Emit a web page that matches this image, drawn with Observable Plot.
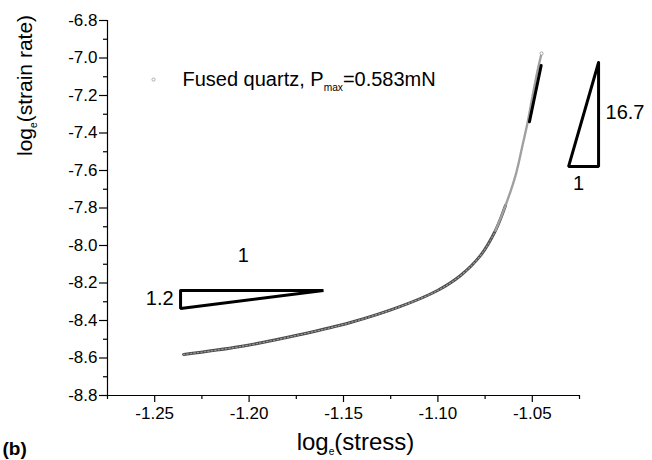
<!DOCTYPE html>
<html><head><meta charset="utf-8">
<script src="https://cdn.jsdelivr.net/npm/d3@7"></script>
<script src="https://cdn.jsdelivr.net/npm/@observablehq/plot@0.6"></script>
<style>body{margin:0;background:#fff}</style>
</head><body><div id="chart"></div>
<script>
// measured curve (log_e stress, log_e strain rate)
const logStress = [-1.2347,-1.2046,-1.1728,-1.1463,-1.1198,-1.1002,-1.0880,-1.0774,-1.0695,-1.0642,-1.0589,-1.0552,-1.0525,-1.0498,-1.0472,-1.0451];
const logStrainRate = [-8.581,-8.539,-8.475,-8.411,-8.325,-8.240,-8.160,-8.053,-7.920,-7.787,-7.627,-7.467,-7.344,-7.200,-7.067,-6.976];
const denseLimit = -1.0642;

// tick values
const xMajorTicks = [-1.25,-1.20,-1.15,-1.10,-1.05];
const xMinorTicks = [-1.275,-1.225,-1.175,-1.125,-1.075,-1.025];
const yMajorTicks = [-6.8,-7.0,-7.2,-7.4,-7.6,-7.8,-8.0,-8.2,-8.4,-8.6,-8.8];
const yMinorTicks = [-6.9,-7.1,-7.3,-7.5,-7.7,-7.9,-8.1,-8.3,-8.5,-8.7];

// slope annotations
const lowSlopeX = [-1.2363,-1.1606,-1.2363,-1.2363];
const lowSlopeY = [-8.240,-8.240,-8.336,-8.240];
const highSlopeX = [-1.0149,-1.0308,-1.0149,-1.0149];
const highSlopeY = [-7.024,-7.579,-7.579,-7.024];
const fitLineX = [-1.0453,-1.0515];
const fitLineY = [-7.040,-7.340];
const centerLabels = ["1","1"];
const centerLabelX = [-1.2030,-1.0255];
const centerLabelY = [-8.053,-7.669];
const endLabels = ["1.2"];
const endLabelX = [-1.2400];
const endLabelY = [-8.283];
const startLabels = ["16.7"];
const startLabelX = [-1.0112];
const startLabelY = [-7.291];

const legendText = "Fused quartz, P_{max}=0.583mN";
const legendX = -1.2506, legendY = -7.115, legendTextX = -1.2353;

const pts = logStress.map((x,i)=>({x, y: logStrainRate[i]}));
const dense = pts.filter(d=>d.x <= denseLimit + 1e-9);
const sparse = pts.filter(d=>d.x >= denseLimit - 0.006);
const toPts = (xs,ys)=>xs.map((x,i)=>({x,y:ys[i]}));
const lab = (ts,xs,ys)=>ts.map((t,i)=>({t,x:xs[i],y:ys[i]}));

const chart = Plot.plot({
  width: 652, height: 460,
  marginLeft: 107, marginRight: 73, marginTop: 20, marginBottom: 65,
  style: {fontFamily: "'Liberation Sans', Arial, sans-serif", fontSize: "17px", color: "black", background: "white", overflow: "visible"},
  x: {domain: [-1.275, -1.025]},
  y: {domain: [-8.8, -6.8]},
  marks: [
    Plot.axisX({ticks: xMinorTicks, tickSize: 4, tickFormat: () => "", label: null, strokeWidth: 1.2}),
    Plot.axisX({ticks: xMajorTicks, tickSize: 7, tickPadding: 4, tickFormat: d => d.toFixed(2), label: null, fontSize: 17, strokeWidth: 1.2}),
    Plot.axisY({ticks: yMinorTicks, tickSize: 4, tickFormat: () => "", label: null, strokeWidth: 1.2}),
    Plot.axisY({ticks: yMajorTicks, tickSize: 8, tickPadding: 2, tickFormat: d => d.toFixed(1), label: null, fontSize: 17, strokeWidth: 1.2}),
    Plot.ruleX([-1.275], {stroke: "black", strokeWidth: 1.2}),
    Plot.ruleY([-8.8], {stroke: "black", strokeWidth: 1.2}),
    Plot.line(dense, {x: "x", y: "y", curve: "catmull-rom", stroke: "#4a4a4a", strokeWidth: 3}),
    Plot.line(dense, {x: "x", y: "y", curve: "catmull-rom", stroke: "#9a9a9a", strokeWidth: 1.2, strokeDasharray: "1.5,2"}),
    Plot.line(sparse, {x: "x", y: "y", curve: "catmull-rom", stroke: "#a0a0a0", strokeWidth: 2.4, strokeDasharray: "2.5,1"}),
    Plot.dot(pts.slice(-1), {x: "x", y: "y", r: 1.6, stroke: "#999", strokeWidth: 0.8, fill: "white"}),
    Plot.line(toPts(fitLineX, fitLineY), {x: "x", y: "y", stroke: "black", strokeWidth: 3}),
    Plot.line(toPts(lowSlopeX, lowSlopeY), {x: "x", y: "y", stroke: "black", strokeWidth: 3, strokeLinejoin: "miter"}),
    Plot.line(toPts(highSlopeX, highSlopeY), {x: "x", y: "y", stroke: "black", strokeWidth: 3, strokeLinejoin: "miter"}),
    Plot.text(lab(centerLabels, centerLabelX, centerLabelY), {x: "x", y: "y", text: "t", textAnchor: "middle", fontSize: 20, fill: "black"}),
    Plot.text(lab(endLabels, endLabelX, endLabelY), {x: "x", y: "y", text: "t", textAnchor: "end", fontSize: 20, fill: "black"}),
    Plot.text(lab(startLabels, startLabelX, startLabelY), {x: "x", y: "y", text: "t", textAnchor: "start", fontSize: 20, fill: "black"}),
    Plot.dot([{x: legendX, y: legendY}], {x: "x", y: "y", r: 1.6, stroke: "#999", strokeWidth: 0.8}),
    Plot.text([legendText], {x: () => legendTextX, y: () => legendY, text: d => d, textAnchor: "start", fontSize: 20, fill: "black"}),
    Plot.text(["log_{e}(stress)"], {frameAnchor: "bottom", dx: 12, dy: 54, lineAnchor: "bottom", fontSize: 24, fill: "black"}),
    Plot.text(["log_{e}(strain rate)"], {frameAnchor: "left", dx: -82, dy: -52, rotate: -90, fontSize: 21, fill: "black"}),
    Plot.text(["(b)"], {frameAnchor: "bottom-left", dx: -105, dy: 59, textAnchor: "start", lineAnchor: "bottom", fontSize: 19, fontWeight: "bold", fill: "black"})
  ]
});

// subscripts: "_{...}"
d3.select(chart).selectAll("text").each(function() {
  const t = this.textContent;
  if (!t.includes("_{")) return;
  const size = parseFloat(getComputedStyle(this).fontSize) || 17;
  const parts = t.split(/_\{([^}]*)\}/);
  const sel = d3.select(this);
  sel.text(null);
  let shifted = false;
  parts.forEach((p, i) => {
    if (!p) return;
    const isSub = i % 2 === 1;
    const ts = sel.append("tspan").text(p);
    if (isSub) {
      ts.attr("font-size", size * 0.6).attr("dy", size * 0.3);
      shifted = true;
    } else if (shifted) {
      ts.attr("dy", -size * 0.3);
      shifted = false;
    }
  });
});

document.getElementById("chart").appendChild(chart);
</script>
</body></html>
